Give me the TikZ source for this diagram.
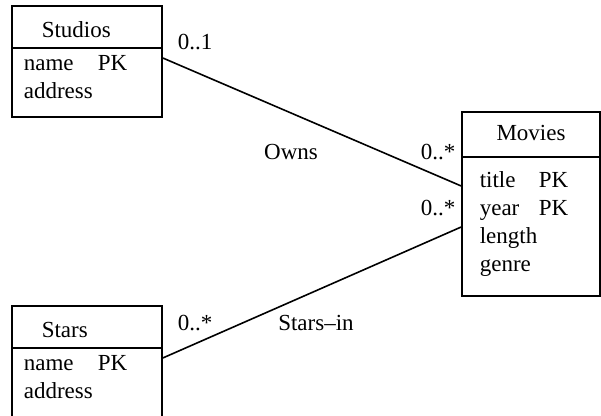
\documentclass[tikz,border=0pt]{standalone}
\usepackage{fontspec}
\setmainfont{Liberation Serif}
\newcommand{\umlfont}{\fontsize{11.5}{14}\selectfont}
\tikzset{
  every picture/.style={line width=0.8pt},
  classbox/.style={draw, rectangle, inner sep=0pt},
  head/.style={font=\umlfont, inner sep=0pt},
  attrs/.style={font=\umlfont, inner sep=0pt, anchor=base west},
  mult/.style={font=\umlfont, inner sep=0pt},
}

\begin{document}
\begin{tikzpicture}[x=0.5pt, y=-0.5pt]
  \clip (0,0) rectangle (601,416);
  % the three classes
  \node[classbox, minimum width=75pt, minimum height=55.5pt] (studios) at (87,61.5) {};
  \node[classbox, minimum width=75pt, minimum height=55.5pt] (stars) at (87,361.5) {};
  \node[classbox, minimum width=69pt, minimum height=92pt] (movies) at (531,204) {};
  \draw (studios.west |- 0,48) -- (studios.east |- 0,48);
  \draw (stars.west |- 0,348) -- (stars.east |- 0,348);
  \draw (movies.west |- 0,157) -- (movies.east |- 0,157);

  \node[head, anchor=west] (studioshead) at (41,30) {Studios};
  \node[head, anchor=west] (starshead) at (41,330) {Stars};
  \node[head] (movieshead) at (531,133) {Movies};

  \node[attrs] (studiosattr) at (23,71) {\begin{tabular}[t]{@{}p{37pt}@{}l@{}}name & PK\\ address & \end{tabular}};
  \node[attrs] (starsattr) at (23,371) {\begin{tabular}[t]{@{}p{37pt}@{}l@{}}name & PK\\ address & \end{tabular}};
  \node[attrs] (moviesattr) at (479,188) {\begin{tabular}[t]{@{}p{29.5pt}@{}l@{}}title & PK\\ year & PK\\ \multicolumn{2}{@{}l@{}}{length}\\ genre & \end{tabular}};

  % associations
  \draw ([yshift=1.75pt]studios.east) -- ([yshift=9pt]movies.west);
  \draw ([yshift=1.75pt]stars.east) -- ([yshift=-11.5pt]movies.west);

  \node[mult] (ownsfrom) at (195,42) {0..1};
  \node[mult] (ownsname) at (291,152) {Owns};
  \node[mult] (ownsto) at (438,152) {0..*};
  \node[mult] (starsinto) at (438,208) {0..*};
  \node[mult] (starsinfrom) at (195,323) {0..*};
  \node[mult] (starsinname) at (316,323) {Stars--in};
\end{tikzpicture}
\end{document}
